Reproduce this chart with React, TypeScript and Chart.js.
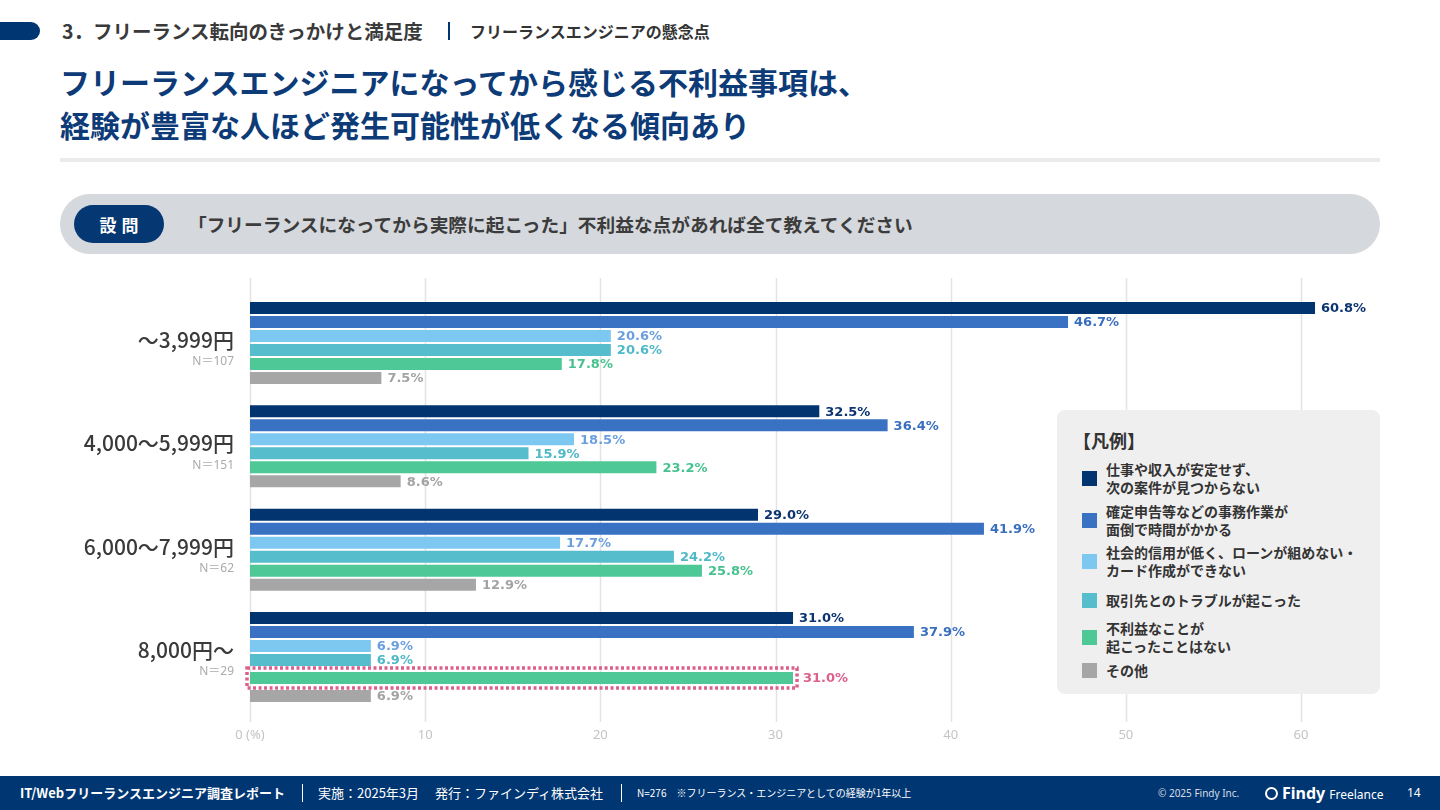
import React, { useEffect, useRef } from "react";
import { Chart, registerables } from "chart.js";

Chart.register(...registerables);

// ---------- data ----------
const categories = ["〜3,999円", "4,000〜5,999円", "6,000〜7,999円", "8,000円〜"];
const sampleSizes = ["N=107", "N=151", "N=62", "N=29"];

const seriesNames = [
  ["仕事や収入が安定せず、", "次の案件が見つからない"],
  ["確定申告等などの事務作業が", "面倒で時間がかかる"],
  ["社会的信用が低く、ローンが組めない・", "カード作成ができない"],
  ["取引先とのトラブルが起こった"],
  ["不利益なことが", "起こったことはない"],
  ["その他"],
];

const unstableIncome = [60.8, 32.5, 29.0, 31.0];
const paperwork = [46.7, 36.4, 41.9, 37.9];
const lowCredit = [20.6, 18.5, 17.7, 6.9];
const clientTrouble = [20.6, 15.9, 24.2, 6.9];
const noDisadvantage = [17.8, 23.2, 25.8, 31.0];
const otherReasons = [7.5, 8.6, 12.9, 6.9];

const xTickValues = [0, 10, 20, 30, 40, 50, 60];

const highlight = { series: 4, category: 3 };

// ---------- styles ----------
const barColors = ["#02356f", "#3a72c3", "#7cc8f1", "#55bdcb", "#4dc896", "#a6a6a6"];
const labelColors = ["#0b3470", "#3a6fc0", "#6c9fde", "#4fb9c8", "#47c28f", "#a3a3a3"];
const highlightColor = "#dc5f8c";
const NAVY = "#003672";
const JP = "'Noto Sans CJK JP', 'Noto Sans', sans-serif";

const allSeries = [unstableIncome, paperwork, lowCredit, clientTrouble, noDisadvantage, otherReasons];

const overlayPlugin = {
  id: "overlay",
  afterDatasetsUpdate(chart: any) {
    // extra breathing room around the highlighted bar
    const shifts: Record<number, number> = { 4: 4, 5: 8 };
    Object.keys(shifts).forEach((k) => {
      const di = Number(k);
      const el = chart.getDatasetMeta(di).data[highlight.category];
      if (el) el.y += shifts[di];
    });
  },
  beforeDatasetsDraw(chart: any) {
    const { ctx } = chart;
    const x = chart.scales.x;
    ctx.save();
    ctx.strokeStyle = "#e3e3e3";
    ctx.lineWidth = 1.5;
    xTickValues.forEach((v) => {
      const px = Math.round(x.getPixelForValue(v)) + 0.5;
      ctx.beginPath();
      ctx.moveTo(px, 278);
      ctx.lineTo(px, 722);
      ctx.stroke();
    });
    ctx.restore();
  },
  afterDatasetsDraw(chart: any) {
    const { ctx } = chart;
    const y = chart.scales.y;
    ctx.save();
    chart.data.datasets.forEach((ds: any, di: number) => {
      const meta = chart.getDatasetMeta(di);
      meta.data.forEach((bar: any, i: number) => {
        const isHi = di === highlight.series && i === highlight.category;
        ctx.font = `bold 13px 'DejaVu Sans', sans-serif`;
        ctx.fillStyle = isHi ? highlightColor : labelColors[di];
        ctx.textAlign = "left";
        ctx.textBaseline = "middle";
        ctx.fillText(ds.data[i].toFixed(1) + "%", bar.x + (isHi ? 10 : 6), bar.y + 1);
        if (isHi) {
          const h = bar.height;
          ctx.strokeStyle = highlightColor;
          ctx.lineWidth = 3.5;
          ctx.setLineDash([3, 2.5]);
          ctx.strokeRect(bar.base - 3, bar.y - h / 2 - 4, bar.x - bar.base + 7, h + 8);
          ctx.setLineDash([]);
        }
      });
    });
    categories.forEach((c, i) => {
      const py = y.getPixelForValue(i);
      ctx.textAlign = "right";
      ctx.textBaseline = "middle";
      ctx.fillStyle = "#3a3a3a";
      ctx.font = `500 21px ${JP}`;
      ctx.fillText(c, 234, py - 3);
      ctx.fillStyle = "#ababab";
      ctx.font = `12px 'Noto Sans', ${JP}`;
      ctx.fillText(sampleSizes[i].replace("=", "＝"), 234, py + 19);
    });
    ctx.restore();
  },
};

function BarChart() {
  const ref = useRef<HTMLCanvasElement | null>(null);
  useEffect(() => {
    if (!ref.current) return;
    const chart = new Chart(ref.current, {
      type: "bar",
      data: {
        labels: categories,
        datasets: allSeries.map((d, i) => ({
          label: seriesNames[i].join(""),
          data: d,
          backgroundColor: barColors[i],
          borderWidth: 0,
          categoryPercentage: 0.813,
          barPercentage: 0.857,
        })),
      },
      options: {
        indexAxis: "y",
        animation: false,
        responsive: false,
        maintainAspectRatio: false,
        events: [],
        layout: { padding: { left: 250, right: 51.4, top: 291.3, bottom: 65.3 } },
        plugins: { legend: { display: false }, tooltip: { enabled: false } },
        scales: {
          x: {
            min: 0,
            max: 65,
            border: { display: false },
            grid: { display: false, drawTicks: false },
            afterBuildTicks: (scale: any) => {
              scale.ticks = xTickValues.map((v) => ({ value: v }));
            },
            afterFit: (scale: any) => {
              scale.height = 40;
            },
            ticks: {
              padding: 22.5,
              color: "#c4c4c4",
              font: { family: "'Noto Sans', sans-serif", size: 13 },
              callback: (v: any) => (Number(v) === 0 ? "0 (%)" : String(v)),
              maxRotation: 0,
              autoSkip: false,
            },
          },
          y: { display: false },
        },
      },
      plugins: [overlayPlugin],
    } as any);
    return () => chart.destroy();
  }, []);
  return (
    <canvas
      ref={ref}
      width={1440}
      height={810}
      style={{ position: "absolute", left: 0, top: 0, width: 1440, height: 810 }}
    />
  );
}

function Legend() {
  const tops = [50, 92, 133, 181, 209, 251];
  return (
    <div
      style={{
        position: "absolute",
        left: 1057,
        top: 410,
        width: 323,
        height: 284,
        background: "#efefef",
        borderRadius: 8,
        fontFamily: JP,
        color: "#333",
        zIndex: 2,
      }}
    >
      <div style={{ position: "absolute", left: 16, top: 17, fontSize: 18, fontWeight: 700 }}>【凡例】</div>
      {seriesNames.map((lines, i) => (
        <div key={i} style={{ position: "absolute", left: 25, top: tops[i], display: "flex", alignItems: "center" }}>
          <div style={{ width: 15, height: 15, background: barColors[i], marginRight: 9, flex: "none" }} />
          <div style={{ fontSize: 14, fontWeight: 700, lineHeight: "18px", whiteSpace: "nowrap" }}>
            {lines.map((l, k) => (
              <div key={k}>{l}</div>
            ))}
          </div>
        </div>
      ))}
    </div>
  );
}

export default function App() {
  return (
    <div
      style={{
        position: "fixed",
        left: 0,
        top: 0,
        width: 1440,
        height: 810,
        overflow: "hidden",
        background: "#fff",
        fontFamily: JP,
      }}
    >
      {/* header */}
      <div style={{ position: "absolute", left: 0, top: 22, width: 40, height: 18, background: NAVY, borderRadius: "0 9px 9px 0" }} />
      <div
        style={{
          position: "absolute",
          left: 62,
          top: 18,
          fontSize: 19.5,
          fontWeight: 700,
          color: "#3a3a3a",
          lineHeight: "26px",
          whiteSpace: "nowrap",
        }}
      >
        3．フリーランス転向のきっかけと満足度
      </div>
      <div style={{ position: "absolute", left: 448, top: 22, width: 2, height: 18, background: NAVY }} />
      <div style={{ position: "absolute", left: 470, top: 20, fontSize: 16, fontWeight: 700, color: "#333", lineHeight: "22px", whiteSpace: "nowrap" }}>
        フリーランスエンジニアの懸念点
      </div>
      {/* title */}
      <div
        style={{
          position: "absolute",
          left: 60,
          top: 60,
          fontSize: 30,
          fontWeight: 700,
          color: "#0d3b77",
          lineHeight: "43px",
          whiteSpace: "nowrap",
        }}
      >
        <div>フリーランスエンジニアになってから感じる不利益事項は、</div>
        <div>経験が豊富な人ほど発生可能性が低くなる傾向あり</div>
      </div>
      <div style={{ position: "absolute", left: 60, top: 158, width: 1320, height: 4, background: "#ebebeb" }} />
      {/* question */}
      <div style={{ position: "absolute", left: 60, top: 194, width: 1320, height: 60, borderRadius: 30, background: "#d5d8dc" }} />
      <div
        style={{
          position: "absolute",
          left: 74,
          top: 205,
          width: 90,
          height: 38,
          borderRadius: 19,
          background: "#053772",
          color: "#fff",
          fontSize: 17,
          fontWeight: 700,
          display: "flex",
          alignItems: "center",
          justifyContent: "center",
          letterSpacing: 5,
          paddingLeft: 5,
          boxSizing: "border-box",
        }}
      >
        設問
      </div>
      <div
        style={{
          position: "absolute",
          left: 188,
          top: 211,
          fontSize: 18.7,
          fontWeight: 700,
          color: "#3c3c3c",
          lineHeight: "26px",
          whiteSpace: "nowrap",
        }}
      >
        「フリーランスになってから実際に起こった」不利益な点があれば全て教えてください
      </div>

      <BarChart />
      <Legend />

      {/* footer */}
      <div style={{ position: "absolute", left: 0, top: 776, width: 1440, height: 34, background: NAVY, color: "#fff" }}>
        <div style={{ position: "absolute", left: 20, top: 8, fontSize: 13, fontWeight: 700, lineHeight: "18px", whiteSpace: "nowrap" }}>
          IT/Webフリーランスエンジニア調査レポート
        </div>
        <div style={{ position: "absolute", left: 302, top: 8, width: 1, height: 18, background: "#fff" }} />
        <div style={{ position: "absolute", left: 318, top: 8, fontSize: 13, lineHeight: "18px", whiteSpace: "nowrap" }}>
          実施：2025年3月　 発行：ファインディ株式会社
        </div>
        <div style={{ position: "absolute", left: 621, top: 8, width: 1, height: 18, background: "#fff" }} />
        <div style={{ position: "absolute", left: 637, top: 9, fontSize: 10, lineHeight: "16px", whiteSpace: "nowrap" }}>
          N=276　※フリーランス・エンジニアとしての経験が1年以上
        </div>
        <div
          style={{
            position: "absolute",
            left: 1158,
            top: 9,
            fontSize: 10,
            lineHeight: "16px",
            whiteSpace: "nowrap",
            fontFamily: "'Noto Sans', sans-serif",
            color: "#d8dde6",
          }}
        >
          © 2025 Findy Inc.
        </div>
        <div style={{ position: "absolute", left: 1265, top: 7, display: "flex", alignItems: "baseline", whiteSpace: "nowrap", fontFamily: "'Noto Sans', sans-serif" }}>
          <span
            style={{
              display: "inline-block",
              width: 9,
              height: 9,
              border: "2.5px solid #fff",
              borderRadius: "50%",
              marginRight: 4,
              position: "relative",
              top: 1,
            }}
          />
          <span style={{ fontSize: 16, fontWeight: 700, lineHeight: "20px" }}>Findy</span>
          <span style={{ fontSize: 12, marginLeft: 4, lineHeight: "20px" }}>Freelance</span>
        </div>
        <div style={{ position: "absolute", left: 1407, top: 8, fontSize: 12, lineHeight: "18px", fontFamily: "'Noto Sans', sans-serif" }}>14</div>
      </div>
    </div>
  );
}
